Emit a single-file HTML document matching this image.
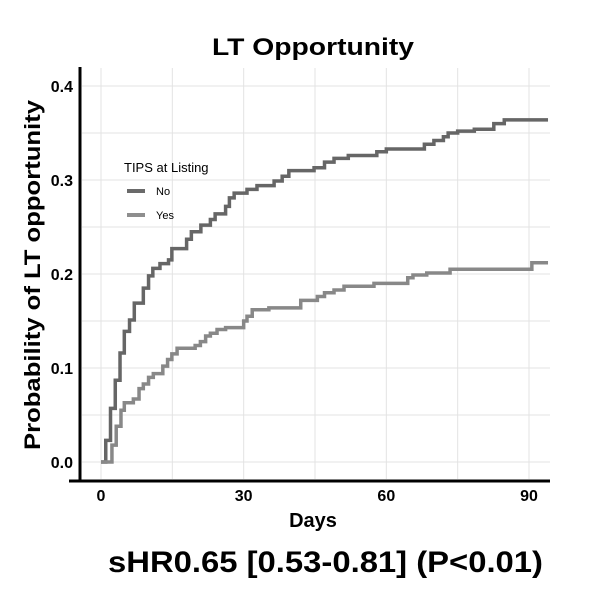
<!DOCTYPE html>
<html><head><meta charset="utf-8"><style>
body{margin:0;background:#fff;}
svg text{font-family:"Liberation Sans",Arial,sans-serif;}
</style></head><body>
<svg id="chart" width="613" height="594" viewBox="0 0 613 594">
<text x="313" y="55" text-anchor="middle" font-size="24" font-weight="bold" textLength="202" lengthAdjust="spacingAndGlyphs">LT Opportunity</text>
<g id="grid"></g>
<g id="series"></g>
<line x1="80" y1="67" x2="80" y2="482" stroke="#000" stroke-width="3"/>
<line x1="69" y1="481" x2="550" y2="481" stroke="#000" stroke-width="3"/>
<g id="ticks"></g>
<text transform="translate(40,275) rotate(-90)" text-anchor="middle" font-size="22" font-weight="bold" textLength="350" lengthAdjust="spacingAndGlyphs">Probability of LT opportunity</text>
<text x="313" y="527" text-anchor="middle" font-size="20" font-weight="bold">Days</text>
<text x="108" y="572" font-size="30" font-weight="bold" textLength="435" lengthAdjust="spacingAndGlyphs">sHR0.65 [0.53-0.81] (P&lt;0.01)</text>
<g>
<text x="124" y="172" font-size="13">TIPS at Listing</text>
<line x1="127" y1="191" x2="145" y2="191" stroke="#6a6a6a" stroke-width="4"/>
<text x="156" y="195" font-size="11">No</text>
<line x1="127" y1="215" x2="145" y2="215" stroke="#8e8e8e" stroke-width="4"/>
<text x="156" y="219" font-size="11">Yes</text>
</g>
</svg>
<script>
const xTicks=[0,30,60,90];
const yTicks=[0,0.1,0.2,0.3,0.4];
const yTickLabels=["0.0","0.1","0.2","0.3","0.4"];
const noDays=[0,1,2,3,4,4.9,6,7,8.9,10,10.9,12.4,14.2,14.9,18,19,21,23,24,26.2,27,28,30.7,32.8,36.4,38.1,39.5,44.8,47,49,52,58,60,68,70,72,73,75,78.5,82.6,84.8];
const noProb=[0,0.023,0.057,0.087,0.116,0.139,0.151,0.169,0.185,0.198,0.206,0.211,0.215,0.227,0.237,0.245,0.252,0.258,0.264,0.272,0.281,0.286,0.290,0.294,0.299,0.304,0.310,0.313,0.319,0.323,0.326,0.330,0.333,0.338,0.342,0.346,0.350,0.352,0.354,0.360,0.364];
const yesDays=[0,2.3,3.2,4.2,4.9,6.8,8,8.9,10,11,13,14,14.9,16,19.8,20.9,22,23,24.4,26.2,30,30.7,31.8,35.3,42,45.5,47,49,51.1,57.4,64.5,65.6,68.5,73.4,90.6];
const yesProb=[0,0.018,0.038,0.055,0.063,0.067,0.078,0.083,0.090,0.094,0.102,0.109,0.115,0.121,0.124,0.128,0.134,0.137,0.141,0.143,0.150,0.155,0.162,0.164,0.172,0.176,0.180,0.183,0.187,0.190,0.196,0.199,0.201,0.205,0.212];
const xMax=94;
const NS="http://www.w3.org/2000/svg";
const X=d=>101+d*(529-101)/90;
const Y=p=>462-p*(462-86)/0.4;
const grid=document.getElementById('grid'),ticks=document.getElementById('ticks'),ser=document.getElementById('series');
function mk(tag,attrs,parent){const e=document.createElementNS(NS,tag);for(const k in attrs)e.setAttribute(k,attrs[k]);parent.appendChild(e);return e;}
for(let v=0;v<=0.4001;v+=0.05){
 const g=mk('line',{x1:82,x2:550,y1:Y(v),y2:Y(v),stroke:'#e3e3e3','stroke-width':1},grid);
 
 
}
for(let d=0;d<=90;d+=15){
 const g=mk('line',{x1:X(d),x2:X(d),y1:68,y2:479,stroke:'#e3e3e3','stroke-width':1},grid);
 
 
}
xTicks.forEach(d=>{
 const t=mk('text',{x:X(d),y:501,'text-anchor':'middle','font-size':16,'font-weight':'bold'},ticks);
 t.textContent=d;
 
 
});
yTicks.forEach((v,i)=>{
 const t=mk('text',{x:73,y:Y(v)+6,'text-anchor':'end','font-size':16,'font-weight':'bold'},ticks);
 t.textContent=yTickLabels[i];
 
 
});
function stepPath(days,probs){
 let d='M'+X(days[0])+','+Y(probs[0]);
 for(let i=1;i<days.length;i++){d+=' H'+X(days[i])+' V'+Y(probs[i]);}
 d+=' H'+X(xMax);
 return d;
}
const pNo=mk('path',{d:stepPath(noDays,noProb),fill:'none',stroke:'#666','stroke-width':3.5},ser);


const pYes=mk('path',{d:stepPath(yesDays,yesProb),fill:'none',stroke:'#888','stroke-width':3.5},ser);


</script>
</body></html>
